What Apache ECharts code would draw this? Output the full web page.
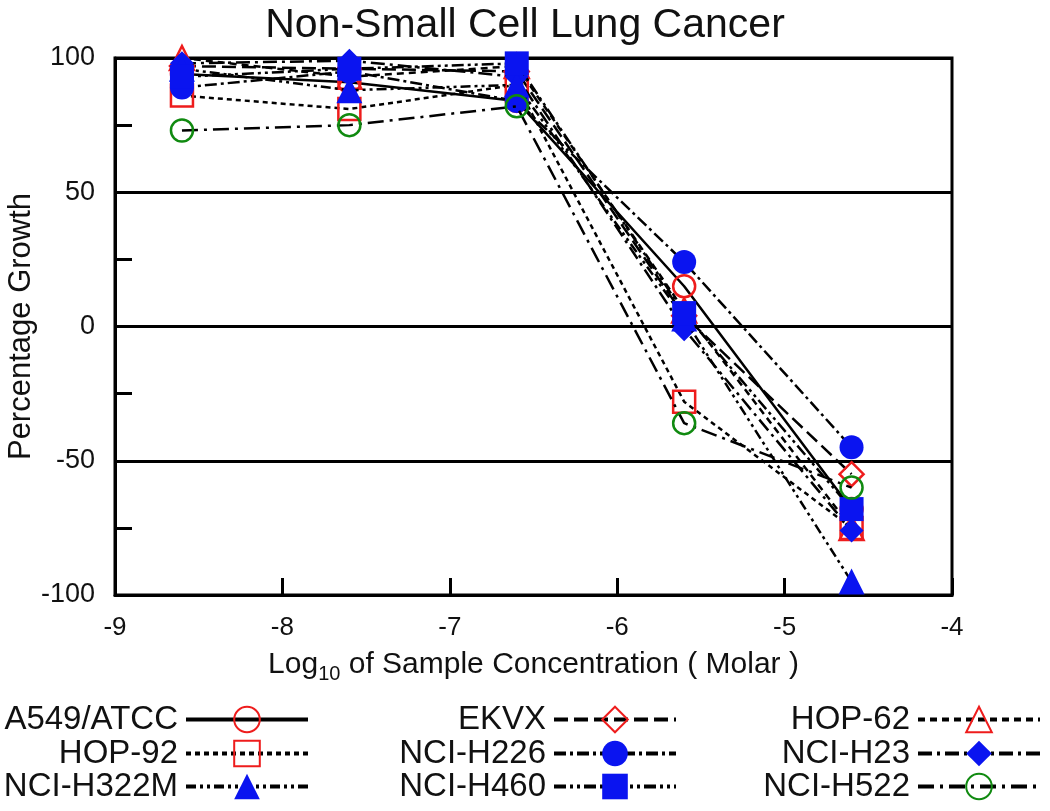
<!DOCTYPE html>
<html><head><meta charset="utf-8">
<script src="https://cdn.jsdelivr.net/npm/echarts@6/dist/echarts.min.js"></script>
<style>html,body{margin:0;padding:0;background:#fff}#c{width:1050px;height:811px}</style>
</head><body><div id="c"></div>
<script>
const xValues = [-8.6, -7.6, -6.6, -5.6, -4.6];
const names = ['A549/ATCC','EKVX','HOP-62','HOP-92','NCI-H226','NCI-H23','NCI-H322M','NCI-H460','NCI-H522'];
const a549   = [94, 91, 84, 15, -68];
const ekvx   = [97, 96, 95, 4, -55];
const hop62  = [100, 93, 97, 6, -75];
const hop92  = [86, 81, 90, -28, -75];
const h226   = [89, 95, 84, 24, -45];
const h23    = [98, 99, 93, -1, -76];
const h322m  = [96, 88, 90, 3, -95];
const h460   = [93, 96, 98, 5, -68];
const h522   = [73, 75, 82, -36, -60];
const yTicks = [-100, -50, 0, 50, 100];
const xTicks = [-9, -8, -7, -6, -5, -4];

const RED = '#ee1c1c', BLUE = '#0a14f0', GREEN = '#108a10';
const styles = [
  {data:a549, symbol:'circle', color:RED, fill:'transparent', dash:'solid', size:22},
  {data:ekvx, symbol:'diamond', color:RED, fill:'transparent', dash:[14,6], size:24},
  {data:hop62, symbol:'triangle', color:RED, fill:'transparent', dash:[7,5], size:24},
  {data:hop92, symbol:'rect', color:RED, fill:'transparent', dash:[5,4], size:22},
  {data:h226, symbol:'circle', color:BLUE, fill:BLUE, dash:[12,4,3,4], size:24},
  {data:h23, symbol:'diamond', color:BLUE, fill:BLUE, dash:[14,5,3,5], size:24},
  {data:h322m, symbol:'triangle', color:BLUE, fill:BLUE, dash:[10,4,3,4,3,4], size:26},
  {data:h460, symbol:'rect', color:BLUE, fill:BLUE, dash:[12,4,3,4,3,4], size:24},
  {data:h522, symbol:'circle', color:GREEN, fill:'transparent', dash:[16,6,3,6], size:22}
];

const series = styles.map((s, i) => ({
  name: names[i],
  type: 'line',
  data: xValues.map((x, j) => [x, s.data[j]]),
  symbol: s.symbol,
  symbolSize: s.size,
  showAllSymbol: true,
  lineStyle: {color:'#000', width:2.5, type:s.dash},
  itemStyle: {color:s.fill, borderColor:s.color, borderWidth: s.fill==='transparent'?2.5:0},
  emphasis: {disabled:true},
  z: 3 + i
}));

const colRight = [740, 372, 8];
const rowTop = [703, 737, 770];
const legendOrder = [
  ['A549/ATCC',0,0],['EKVX',1,0],['HOP-62',2,0],
  ['HOP-92',0,1],['NCI-H226',1,1],['NCI-H23',2,1],
  ['NCI-H322M',0,2],['NCI-H460',1,2],['NCI-H522',2,2]
];
const legends = legendOrder.map(([n,c,r]) => ({
  data:[n], orient:'horizontal', align:'right', right:colRight[c], top:rowTop[r],
  padding:0, itemWidth:122, itemHeight:32, selectedMode:false,
  textStyle:{fontSize:33, color:'#111', fontFamily:'Liberation Sans', padding:[0,3,0,0]},
  lineStyle:{width:4}
}));

const chart = echarts.init(document.getElementById('c'));
chart.setOption({
  animation:false,
  backgroundColor:'#fff',
  title:{text:'Non-Small Cell Lung Cancer', left:'center', top:0,
    textStyle:{fontSize:41, fontWeight:'normal', color:'#111', fontFamily:'Liberation Sans'}},
  grid:{left:115, right:98, top:58, bottom:216, show:true, borderColor:'#000', borderWidth:3,
    backgroundColor:'transparent', containLabel:false, outerBoundsMode:'none'},
  legend: legends,
  xAxis:{type:'value', min:xTicks[0], max:xTicks[xTicks.length-1], interval:1,
    name:'{a|Log}{s|10}{a| of Sample Concentration ( Molar )}', nameLocation:'middle', nameGap:55,
    nameMoveOverlap:false,
    nameTextStyle:{color:'#111', fontFamily:'Liberation Sans', rich:{
      a:{fontSize:30, lineHeight:34, verticalAlign:'top', fontFamily:'Liberation Sans', color:'#111'},
      s:{fontSize:20, lineHeight:20, verticalAlign:'bottom', fontFamily:'Liberation Sans', color:'#111'}}},
    axisLine:{show:true, onZero:false, lineStyle:{color:'#000', width:3}},
    axisTick:{show:true, inside:true, length:17, lineStyle:{color:'#000', width:3}},
    axisLabel:{fontSize:26, color:'#111', margin:20, fontFamily:'Liberation Sans'},
    splitLine:{show:false}},
  yAxis:[{type:'value', min:yTicks[0], max:yTicks[yTicks.length-1], interval:25,
    name:'Percentage Growth', nameLocation:'middle', nameGap:78, nameMoveOverlap:false,
    nameTextStyle:{fontSize:31, color:'#111', fontFamily:'Liberation Sans'},
    axisLine:{show:true, onZero:false, lineStyle:{color:'#000', width:3}},
    axisTick:{show:true, inside:true, length:17, lineStyle:{color:'#000', width:3}},
    axisLabel:{fontSize:27, color:'#111', margin:20, fontFamily:'Liberation Sans',
      formatter:v => yTicks.indexOf(v) >= 0 ? String(v) : ''},
    splitLine:{show:false}},
   {type:'value', min:yTicks[0], max:yTicks[yTicks.length-1], interval:50, position:'left',
    axisLine:{show:false}, axisTick:{show:false}, axisLabel:{show:false},
    splitLine:{show:true, lineStyle:{color:'#000', width:3}}}],
  series: series
});
</script></body></html>
